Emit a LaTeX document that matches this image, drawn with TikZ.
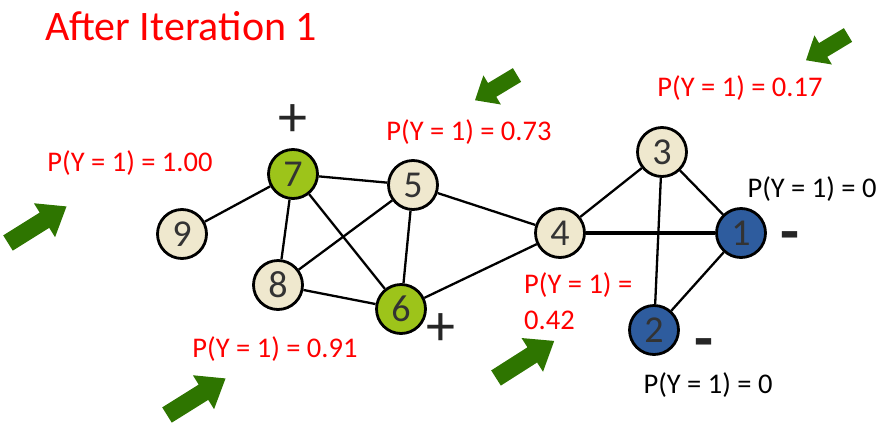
\documentclass[tikz,border=0pt]{standalone}
\usepackage{fontspec}
\setmainfont{Carlito}
\definecolor{redtxt}{RGB}{255,0,0}
\definecolor{beige}{RGB}{239,232,206}
\definecolor{lime}{RGB}{157,196,26}
\definecolor{navy}{RGB}{46,92,158}
\definecolor{agreen}{RGB}{46,117,0}
\newcommand{\garrow}[7]{% tail x, tail y, angle, length, shaft w, head w, head len
  \fill[agreen, shift={(#1,#2)}, rotate=#3]
    (0,-#5/2) -- ({#4-#7},-#5/2) -- ({#4-#7},-#6/2) -- (#4,0) -- ({#4-#7},#6/2) -- ({#4-#7},#5/2) -- (0,#5/2) -- cycle;}
\begin{document}
\begin{tikzpicture}[x=1pt,y=-1pt,
  vert/.style={circle, draw=black, line width=2.8pt, minimum size=49pt, inner sep=0pt,
    font=\fontsize{38}{38}\selectfont, text=black!80},
  plainv/.style={vert, fill=beige},
  posv/.style={vert, fill=lime},
  negv/.style={vert, fill=navy},
  edge/.style={line width=2.3pt, black},
  redlab/.style={text=redtxt, font=\fontsize{28.5}{28.5}\selectfont, inner sep=0pt},
  blacklab/.style={text=black, font=\fontsize{28.5}{28.5}\selectfont, inner sep=0pt},
  sign/.style={text=black!85, font=\fontsize{58}{58}\selectfont, inner sep=0pt},
  dsign/.style={text=black!85, font=\fontsize{62}{62}\selectfont\bfseries, inner sep=0pt}]
\useasboundingbox (0,0) rectangle (890,434);

% title
\node[anchor=west, text=redtxt, font=\fontsize{42}{42}\selectfont, inner sep=0pt] (title) at (45,26) {After Iteration 1};

% nodes
\node[posv]   (n7) at (293,174) {7};
\node[plainv] (n5) at (413,185) {5};
\node[plainv] (n9) at (182,234) {9};
\node[plainv] (n8) at (278,285) {8};
\node[posv]   (n6) at (401,309) {6};
\node[plainv] (n4) at (560,233) {4};
\node[plainv] (n3) at (662,152) {3};
\node[negv]   (n1) at (741,233) {1};
\node[negv]   (n2) at (654,330) {2};

% edges
\draw[edge] (n9) -- (n7);
\draw[edge] (n7) -- (n5);
\draw[edge] (n7) -- (n8);
\draw[edge] (n7) -- (n6);
\draw[edge] (n8) -- (n5);
\draw[edge] (n8) -- (n6);
\draw[edge] (n5) -- (n6);
\draw[edge] (n5) -- (n4);
\draw[edge] (n6) -- (n4);
\draw[edge] (n4) -- (n3);
\draw[edge, line width=4.5pt] (n4) -- (n1);
\draw[edge] (n3) -- (n1);
\draw[edge] (n3) -- (n2);
\draw[edge] (n1) -- (n2);

% signs
\node[sign] (p7) at (293,121) {+};
\node[sign] (p6) at (441,330) {+};
\node[dsign] (m1) at (790,252) {\smash{-}};
\node[dsign] (m2) at (704,359) {\smash{-}};

% labels
\node[redlab] (l9) at (130,163) {P(Y = 1) = 1.00};
\node[redlab] (l5) at (469,132) {P(Y = 1) = 0.73};
\node[redlab] (l3) at (740,88) {P(Y = 1) = 0.17};
\node[redlab] (l8) at (275,349) {P(Y = 1) = 0.91};
\node[redlab, anchor=west] (l4a) at (524,285) {P(Y = 1) =};
\node[redlab, anchor=west] (l4b) at (524,320) {0.42};
\node[blacklab] (l1) at (812,189) {P(Y = 1) = 0};
\node[blacklab] (l2) at (708,385) {P(Y = 1) = 0};

% green arrows
\garrow{8}{243}{32}{69}{18}{40}{26}
\garrow{167}{415}{32}{69}{18}{40}{26}
\garrow{496}{378}{32.5}{69}{18}{40}{26}
\garrow{517}{75}{211}{49}{16}{34}{20}
\garrow{848}{35}{211}{49}{16}{34}{20}
\end{tikzpicture}
\end{document}
